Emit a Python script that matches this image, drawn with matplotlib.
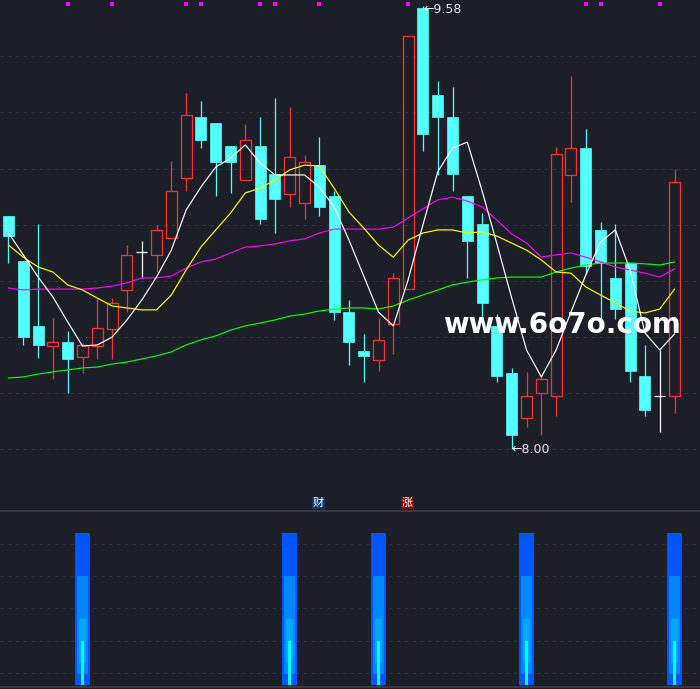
import matplotlib.pyplot as plt
from matplotlib.patches import Rectangle
import matplotlib.transforms as mtransforms

plt.rcParams['font.family'] = ['DejaVu Sans', 'Noto Sans CJK SC']

# candle data (open, high, low, close)
opens = [8.831, 8.670, 8.439, 8.367, 8.381, 8.328, 8.367, 8.428, 8.567, 8.702,
         8.692, 8.752, 8.966, 9.184, 9.162, 9.080, 8.959, 9.080, 8.980, 8.909,
         8.877, 9.012, 8.902, 8.488, 8.349, 8.317, 8.446, 8.570, 9.572, 9.262,
         9.184, 8.902, 8.802, 8.439, 8.271, 8.111, 8.200, 8.189, 8.977, 9.073,
         8.781, 8.610, 8.663, 8.260, 8.189, 8.189]
highs = [8.831, 8.670, 8.802, 8.467, 8.421, 8.378, 8.535, 8.538, 8.727, 8.742,
         8.799, 9.027, 9.269, 9.241, 9.162, 9.080, 9.159, 9.184, 9.251, 9.219,
         9.048, 9.112, 8.920, 8.531, 8.410, 8.467, 8.627, 9.472, 9.580, 9.312,
         9.291, 8.902, 8.841, 8.481, 8.289, 8.275, 8.260, 9.077, 9.330, 9.141,
         8.809, 8.802, 8.663, 8.371, 8.353, 8.998]
lows = [8.663, 8.371, 8.324, 8.250, 8.200, 8.271, 8.321, 8.321, 8.488, 8.610,
        8.631, 8.752, 8.920, 9.073, 8.902, 8.913, 8.959, 8.802, 8.770, 8.863,
        8.820, 8.831, 8.460, 8.299, 8.239, 8.278, 8.339, 8.570, 9.062, 8.977,
        8.920, 8.610, 8.460, 8.239, 8.000, 8.078, 8.050, 8.118, 8.881, 8.624,
        8.460, 8.463, 8.239, 8.118, 8.061, 8.128]
closes = [8.759, 8.399, 8.371, 8.381, 8.321, 8.371, 8.431, 8.521, 8.692, 8.702,
          8.781, 8.920, 9.191, 9.102, 9.023, 9.023, 9.102, 8.820, 8.891, 9.041,
          9.023, 8.863, 8.488, 8.381, 8.332, 8.389, 8.610, 9.472, 9.123, 9.184,
          8.980, 8.742, 8.521, 8.260, 8.050, 8.189, 8.250, 9.052, 9.073, 8.652,
          8.663, 8.499, 8.278, 8.139, 8.189, 8.952]

# moving averages
ma5 = [8.770, 8.692, 8.613, 8.542, 8.453, 8.367, 8.371, 8.399, 8.460, 8.531,
       8.613, 8.709, 8.852, 8.934, 9.005, 9.037, 9.084, 9.020, 8.977, 8.977,
       8.977, 8.934, 8.863, 8.745, 8.617, 8.488, 8.439, 8.603, 8.799, 8.988,
       9.073, 9.094, 8.920, 8.731, 8.538, 8.353, 8.257, 8.353, 8.488, 8.620,
       8.738, 8.781, 8.638, 8.414, 8.353, 8.410]
ma10 = [8.727, 8.684, 8.649, 8.631, 8.585, 8.567, 8.538, 8.510, 8.503, 8.496,
        8.496, 8.549, 8.638, 8.720, 8.781, 8.841, 8.913, 8.930, 8.959, 8.995,
        9.012, 9.009, 8.930, 8.845, 8.788, 8.727, 8.684, 8.745, 8.770, 8.781,
        8.781, 8.770, 8.774, 8.759, 8.734, 8.709, 8.674, 8.631, 8.627, 8.578,
        8.549, 8.521, 8.492, 8.485, 8.499, 8.570]
ma20 = [8.574, 8.567, 8.570, 8.570, 8.570, 8.570, 8.574, 8.581, 8.592, 8.610,
        8.610, 8.617, 8.645, 8.667, 8.677, 8.699, 8.720, 8.724, 8.731, 8.742,
        8.749, 8.770, 8.784, 8.784, 8.784, 8.784, 8.791, 8.824, 8.856, 8.888,
        8.898, 8.884, 8.863, 8.816, 8.767, 8.734, 8.684, 8.692, 8.699, 8.684,
        8.667, 8.649, 8.638, 8.627, 8.613, 8.642]
ma60 = [8.253, 8.257, 8.267, 8.275, 8.282, 8.289, 8.292, 8.303, 8.310, 8.321,
        8.332, 8.346, 8.371, 8.389, 8.403, 8.424, 8.439, 8.449, 8.460, 8.474,
        8.481, 8.492, 8.499, 8.503, 8.503, 8.499, 8.510, 8.531, 8.549, 8.567,
        8.585, 8.595, 8.603, 8.610, 8.613, 8.613, 8.613, 8.631, 8.645, 8.656,
        8.663, 8.663, 8.663, 8.660, 8.656, 8.667]

signal_idx = [4, 7, 12, 13, 17, 18, 21, 27, 39, 40, 44]
grid_prices = [8.0, 8.2, 8.4, 8.6, 8.8, 9.0, 9.2, 9.4]

# lower panel: signal bars, four stacked layers (bottom, top)
bar_idx = [5, 19, 25, 35, 45]
layer_bottom = [2, 13, 24, 2]
layer_top = [154, 111, 68, 46]
layer_width = [1.01, 0.74, 0.47, 0.2]
layer_color = ['#0055ff', '#0088ff', '#00a8ff', '#00ffff']
low_grid = [14, 46, 79, 111, 143]

bg = '#1d1f28'
grid_c = '#30343e'
up_c = '#ff3333'
dn_c = '#54ffff'

fig = plt.figure(figsize=(7, 6.89), dpi=100)
fig.patch.set_facecolor(bg)
ax = fig.add_axes([0, 178 / 689, 1, 511 / 689])
ax2 = fig.add_axes([0, 2 / 689, 1, 176 / 689])
for a in (ax, ax2):
    a.set_facecolor(bg)
    a.set_xticks([])
    a.set_yticks([])
    a.set_xlim(-0.574, 46.72)
for s in ax.spines.values():
    s.set_visible(False)

ax.set_ylim(7.779, 9.6007)
for g in grid_prices:
    ax.axhline(g, color=grid_c, lw=0.8, ls=(0, (3, 4)), zorder=0)

w = 0.74
for i in range(len(opens)):
    o, h, l, c = opens[i], highs[i], lows[i], closes[i]
    if c > o:
        ax.vlines(i, c, h, color=up_c, lw=0.9, zorder=2)
        ax.vlines(i, l, o, color=up_c, lw=0.9, zorder=2)
        ax.add_patch(Rectangle((i - w / 2, o), w, c - o, fill=False,
                               edgecolor=up_c, lw=0.9, zorder=2))
    elif c < o:
        ax.vlines(i, l, h, color=dn_c, lw=0.9, zorder=2)
        ax.add_patch(Rectangle((i - w / 2, c), w, o - c, facecolor=dn_c,
                               edgecolor=dn_c, lw=0.5, zorder=2))
    else:
        ax.vlines(i, l, h, color='white', lw=0.9, zorder=2)
        ax.hlines(o, i - w / 2, i + w / 2, color='white', lw=0.9, zorder=2)

x = list(range(len(opens)))
ax.plot(x, ma60, color='#00ff00', lw=0.85, zorder=3)
ax.plot(x, ma20, color='#ff00ff', lw=0.85, zorder=3)
ax.plot(x, ma10, color='#ffff00', lw=0.85, zorder=3)
ax.plot(x, ma5, color='white', lw=0.85, zorder=3)

trans = mtransforms.blended_transform_factory(ax.transData, ax.transAxes)
ax.scatter(signal_idx, [0.993] * len(signal_idx), marker='s', s=8,
           color='#ff00ff', linewidths=0, transform=trans, zorder=4)

ax.text(28, 9.566, '\u21909.58', color='#e6ebf2', fontsize=9, va='center',
        ha='left', zorder=5)
ax.text(34, 8.0, '\u21908.00', color='#e6ebf2', fontsize=9, va='center',
        ha='left', zorder=5)

ax.text(29.33, 8.414, 'www.6o7o.com', color='white', fontsize=20,
        fontweight='bold', ha='left', va='baseline', zorder=6)

ax.text(20.95, 7.807, '财', color='white', fontsize=8,
        family=['Noto Sans CJK SC'], ha='center', va='center',
        bbox=dict(facecolor='#0b3a6e', edgecolor='none', pad=0.6), zorder=5)
ax.text(26.95, 7.807, '涨', color='white', fontsize=8,
        family=['Noto Sans CJK SC'], ha='center', va='center',
        bbox=dict(facecolor='#7d0a0a', edgecolor='none', pad=0.6), zorder=5)

# lower panel
ax2.set_ylim(0, 176)
for s in ('left', 'right'):
    ax2.spines[s].set_visible(False)
for s in ('top', 'bottom'):
    ax2.spines[s].set_color('#3c404c')
    ax2.spines[s].set_linewidth(1.2)
for g in low_grid:
    ax2.axhline(g, color=grid_c, lw=0.8, ls=(0, (3, 4)), zorder=0)
for k in range(4):
    ax2.bar(bar_idx, layer_top[k] - layer_bottom[k], bottom=layer_bottom[k],
            width=layer_width[k], color=layer_color[k], zorder=2 + k)

fig.savefig('out.png', dpi=100, facecolor=bg)
